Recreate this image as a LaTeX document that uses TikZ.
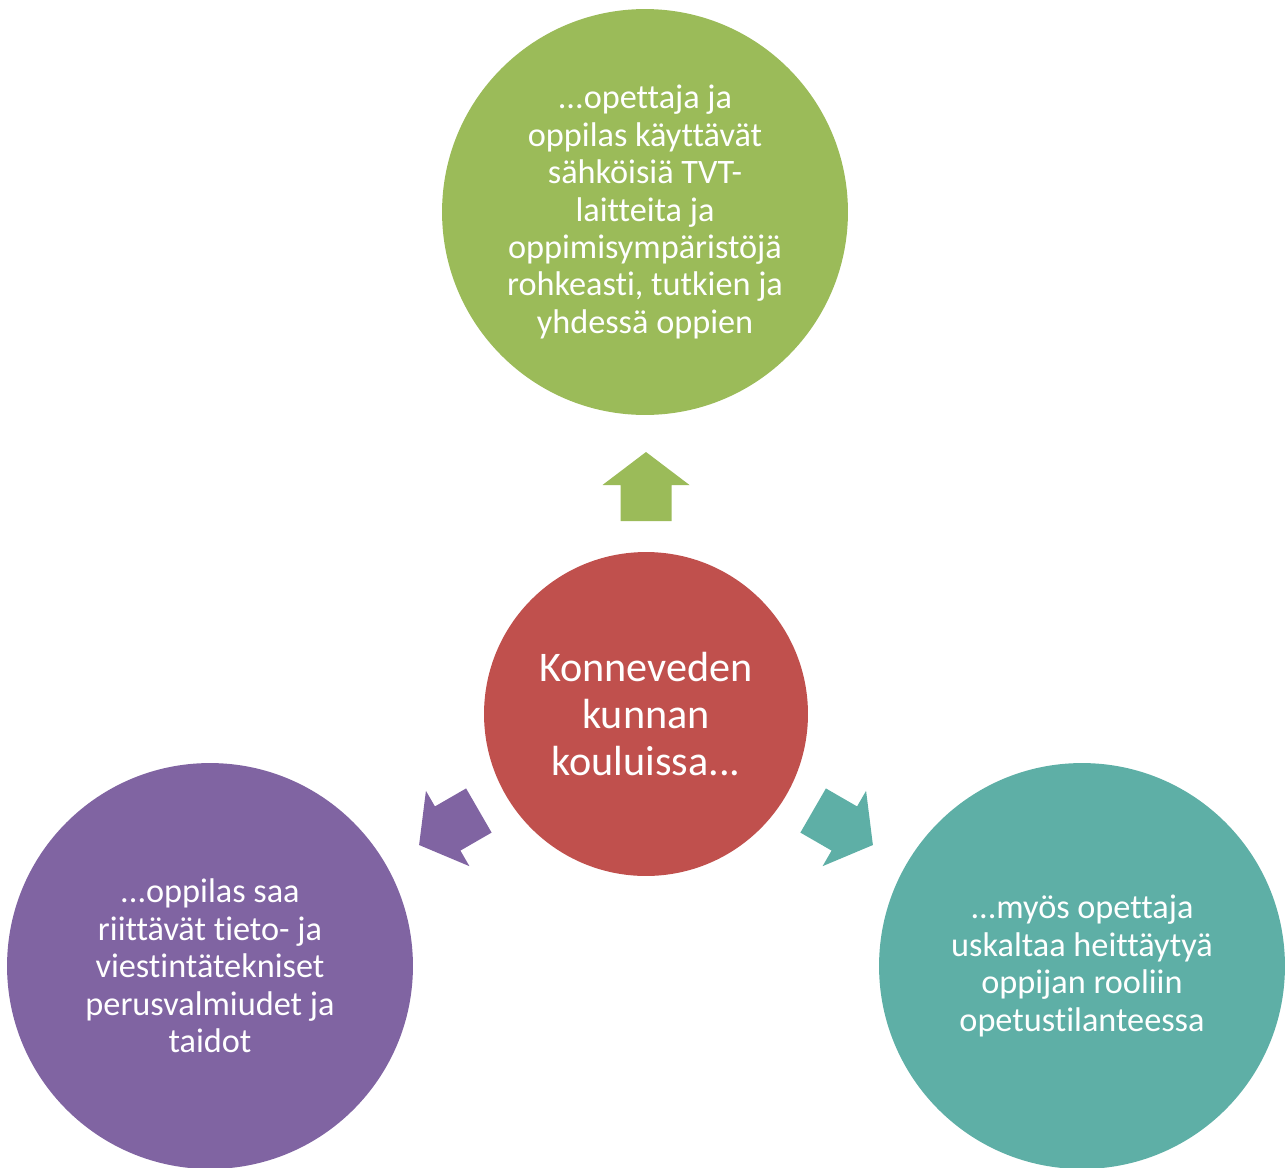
\documentclass[tikz,border=0pt]{standalone}
\usepackage{fontspec}
\setmainfont{Carlito}[Ligatures=NoCommon]
\usetikzlibrary{calc}
\definecolor{vihrea}{HTML}{9BBB59}
\definecolor{punainen}{HTML}{C0504D}
\definecolor{violetti}{HTML}{8064A2}
\definecolor{turkoosi}{HTML}{5EAFA6}
\begin{document}
\begin{tikzpicture}
        [x=0.02cm, y=0.02cm,
        pallo/.style={circle, draw=none, minimum size=8.12cm, inner sep=0pt, text=white, align=center, font=\fontsize{19.5}{21.3}\selectfont},
        keskipallo/.style={pallo, minimum size=6.48cm, font=\fontsize{24}{26.6}\selectfont}]
        \useasboundingbox (0,0) rectangle (1288,-1167);
        \node[keskipallo, fill=punainen] (kesk) at (646,-714) {Konneveden\\kunnan\\kouluissa...};
        \node[pallo, fill=vihrea] (ylos) at (645,-212) {...opettaja ja\\oppilas käyttävät\\sähköisiä TVT-\\laitteita ja\\oppimisympäristöjä\\rohkeasti, tutkien ja\\yhdessä oppien};
        \node[pallo, fill=violetti] (vasen) at (210,-966) {...oppilas saa\\riittävät tieto- ja\\viestintätekniset\\perusvalmiudet ja\\taidot};
        \node[pallo, fill=turkoosi] (oikea) at (1082,-966) {...myös opettaja\\uskaltaa heittäytyä\\oppijan rooliin\\opetustilanteessa};
        
        % nuolet
        \fill[vihrea, shift={($(kesk)+(90:193)$)}, rotate=90] (0,-25.5) -- (36,-25.5) -- (36,-43.5) -- (69,0) -- (36,43.5) -- (36,25.5) -- (0,25.5) -- cycle;
        \fill[violetti, shift={($(kesk)+(210:193)$)}, rotate=210] (0,-25.5) -- (36,-25.5) -- (36,-43.5) -- (69,0) -- (36,43.5) -- (36,25.5) -- (0,25.5) -- cycle;
        \fill[turkoosi, shift={($(kesk)+(330:193)$)}, rotate=330] (0,-25.5) -- (36,-25.5) -- (36,-43.5) -- (69,0) -- (36,43.5) -- (36,25.5) -- (0,25.5) -- cycle;
    
    \end{tikzpicture}
\end{document}
